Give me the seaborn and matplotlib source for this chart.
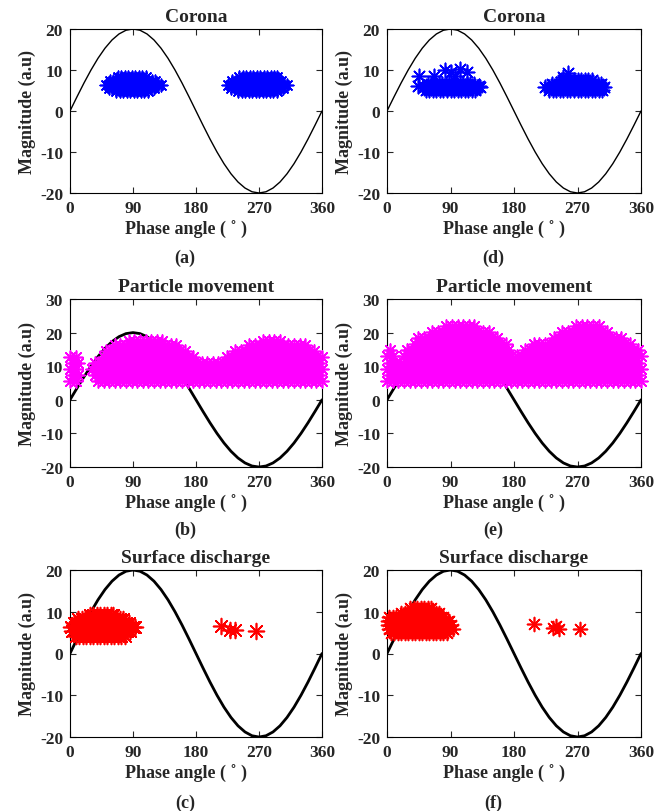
import matplotlib
matplotlib.use("Agg")
import matplotlib.pyplot as plt
import seaborn as sns
import pandas as pd

# ---------------- data ----------------
phase_deg = [0, 10, 20, 30, 40, 50, 60, 70, 80, 90, 100, 110, 120, 130, 140, 150, 160, 170, 180,
             190, 200, 210, 220, 230, 240, 250, 260, 270, 280, 290, 300, 310, 320, 330, 340, 350, 360]
sine_mag = [0, 3.47, 6.84, 10.0, 12.86, 15.32, 17.32, 18.79, 19.70, 20.0, 19.70, 18.79, 17.32, 15.32,
            12.86, 10.0, 6.84, 3.47, 0, -3.47, -6.84, -10.0, -12.86, -15.32, -17.32, -18.79, -19.70,
            -20.0, -19.70, -18.79, -17.32, -15.32, -12.86, -10.0, -6.84, -3.47, 0]

x_ticks = [0, 90, 180, 270, 360]
y_ticks_20 = [-20, -10, 0, 10, 20]
y_ticks_30 = [-20, -10, 0, 10, 20, 30]

# (a) Corona - rows of pulses (magnitude, phase list)
a_row_mag = [8.2, 7.3, 6.4, 5.5, 4.8]
a_row_phase = [
    [68, 73, 78, 83, 88, 93, 98, 103, 108,
     242, 247, 252, 257, 262, 267, 272, 277, 282, 287, 292, 296],
    [57, 62, 67, 72, 77, 82, 87, 92, 97, 102, 107, 112, 117, 121,
     232, 237, 242, 247, 252, 257, 262, 267, 272, 277, 282, 287, 292, 297, 302],
    [52, 55, 60, 65, 70, 75, 80, 85, 90, 95, 100, 105, 110, 115, 120, 125, 130,
     226, 230, 235, 240, 245, 250, 255, 260, 265, 270, 275, 280, 285, 290, 295, 300, 305, 310],
    [55, 60, 65, 70, 75, 80, 85, 90, 95, 100, 105, 110, 115, 120,
     230, 235, 240, 245, 250, 255, 260, 265, 270, 275, 280, 285, 290, 295, 300, 304],
    [66, 71, 76, 81, 86, 91, 96, 101, 106, 111,
     240, 245, 250, 255, 260, 265, 270, 275, 280, 285, 290, 295],
]

# (d) Corona
d_row_mag = [7.6, 6.6, 5.8, 5.1]
d_row_phase = [
    [250, 255, 260, 265, 270, 275, 280, 285, 290],
    [58, 63, 68, 73, 78, 83, 88, 93, 98, 103, 108, 113, 118, 123,
     234, 239, 244, 249, 254, 259, 264, 269, 274, 279, 284, 289, 294, 299, 303],
    [52, 57, 62, 67, 72, 77, 82, 87, 92, 97, 102, 107, 112, 117, 122, 127, 132,
     224, 229, 234, 239, 244, 249, 254, 259, 264, 269, 274, 279, 284, 289, 294, 299, 304, 308],
    [55, 60, 65, 70, 75, 80, 85, 90, 95, 100, 105, 110, 115, 120, 125,
     230, 235, 240, 245, 250, 255, 260, 265, 270, 275, 280, 285, 290, 295, 300, 305],
]
d_extra_phase = [46, 44, 66, 82, 90, 104, 114, 130, 96, 257, 250]
d_extra_mag = [8.5, 6.0, 8.5, 10.0, 9.6, 10.2, 9.4, 6.2, 8.6, 9.3, 8.3]

# (b) Particle movement
b_row_mag = [5.5, 7.3, 9.1, 10.9, 12.7, 14.5, 16.3, 17.4]
b_row_phase = [
    [0, 8, 40, 48, 56, 64, 72, 80, 88, 96, 104, 112, 120, 128, 136, 144, 152, 160, 168, 176, 184,
     192, 200, 208, 216, 224, 232, 240, 248, 256, 264, 272, 280, 288, 296, 304, 312, 320, 328, 336,
     344, 352, 360],
    [4, 12, 36, 44, 52, 60, 68, 76, 84, 92, 100, 108, 116, 124, 132, 140, 148, 156, 164, 172, 180,
     188, 196, 204, 212, 220, 228, 236, 244, 252, 260, 268, 276, 284, 292, 300, 308, 316, 324, 332,
     340, 348, 356],
    [0, 8, 32, 40, 48, 56, 64, 72, 80, 88, 96, 104, 112, 120, 128, 136, 144, 152, 160, 168, 176, 184,
     192, 200, 208, 216, 224, 232, 240, 248, 256, 264, 272, 280, 288, 296, 304, 312, 320, 328, 336,
     344, 352, 360],
    [4, 12, 36, 44, 52, 60, 68, 76, 84, 92, 100, 108, 116, 124, 132, 140, 148, 156, 164, 172, 180,
     188, 196, 204, 212, 220, 228, 236, 244, 252, 260, 268, 276, 284, 292, 300, 308, 316, 324, 332,
     340, 348, 356],
    [0, 8, 48, 56, 64, 72, 80, 88, 96, 104, 112, 120, 128, 136, 144, 152, 160, 168, 176,
     224, 232, 240, 248, 256, 264, 272, 280, 288, 296, 304, 312, 320, 328, 336, 344, 352, 360],
    [52, 60, 68, 76, 84, 92, 100, 108, 116, 124, 132, 140, 148, 156, 164,
     236, 244, 252, 260, 268, 276, 284, 292, 300, 308, 316, 324, 332, 340, 348],
    [64, 72, 80, 88, 96, 104, 112, 120, 128, 136, 144, 152,
     256, 264, 272, 280, 288, 296, 304, 312, 320, 328, 336],
    [84, 92, 100, 108, 116, 124, 132, 276, 284, 292, 300],
]

# (e) Particle movement
e_row_mag = [5.7, 7.5, 9.3, 11.1, 12.9, 14.7, 16.5, 18.3, 20.1, 21.9]
e_row_phase = [
    [0, 8, 16, 24, 32, 40, 48, 56, 64, 72, 80, 88, 96, 104, 112, 120, 128, 136, 144, 152, 160, 168,
     176, 184, 192, 200, 208, 216, 224, 232, 240, 248, 256, 264, 272, 280, 288, 296, 304, 312, 320,
     328, 336, 344, 352, 360],
    [4, 12, 20, 28, 36, 44, 52, 60, 68, 76, 84, 92, 100, 108, 116, 124, 132, 140, 148, 156, 164, 172,
     180, 188, 196, 204, 212, 220, 228, 236, 244, 252, 260, 268, 276, 284, 292, 300, 308, 316, 324,
     332, 340, 348, 356],
    [0, 8, 16, 24, 32, 40, 48, 56, 64, 72, 80, 88, 96, 104, 112, 120, 128, 136, 144, 152, 160, 168,
     176, 184, 192, 200, 208, 216, 224, 232, 240, 248, 256, 264, 272, 280, 288, 296, 304, 312, 320,
     328, 336, 344, 352, 360],
    [4, 12, 20, 28, 36, 44, 52, 60, 68, 76, 84, 92, 100, 108, 116, 124, 132, 140, 148, 156, 164, 172,
     180, 188, 196, 204, 212, 220, 228, 236, 244, 252, 260, 268, 276, 284, 292, 300, 308, 316, 324,
     332, 340, 348, 356],
    [0, 8, 24, 32, 40, 48, 56, 64, 72, 80, 88, 96, 104, 112, 120, 128, 136, 144, 152, 160, 168,
     176, 184, 192, 200, 208, 216, 224, 232, 240, 248, 256, 264, 272, 280, 288, 296, 304, 312, 320,
     328, 336, 344, 352, 360],
    [4, 28, 36, 44, 52, 60, 68, 76, 84, 92, 100, 108, 116, 124, 132, 140, 148, 156, 164, 172,
     196, 204, 212, 220, 228, 236, 244, 252, 260, 268, 276, 284, 292, 300, 308, 316, 324,
     332, 340, 348, 356],
    [40, 48, 56, 64, 72, 80, 88, 96, 104, 112, 120, 128, 136, 144, 152, 160, 168,
     208, 216, 224, 232, 240, 248, 256, 264, 272, 280, 288, 296, 304, 312, 320, 328, 336, 344],
    [44, 52, 60, 68, 76, 84, 92, 100, 108, 116, 124, 132, 140, 148, 156,
     236, 244, 252, 260, 268, 276, 284, 292, 300, 308, 316, 324, 332],
    [64, 72, 80, 88, 96, 104, 112, 120, 128, 136, 144, 248, 256, 264, 272, 280, 288, 296, 304, 312],
    [84, 92, 100, 108, 116, 124, 268, 276, 284, 292, 300],
]

# (c) Surface discharge
c_row_mag = [9.3, 8.3, 7.3, 6.3, 5.3, 4.3]
c_row_phase = [
    [28, 33, 38, 43, 48, 53, 58, 62],
    [12, 17, 22, 27, 32, 37, 42, 47, 52, 57, 62, 67, 71, 75],
    [5, 10, 15, 20, 25, 30, 35, 40, 45, 50, 55, 60, 65, 70, 75, 80, 84],
    [2, 7, 12, 17, 22, 27, 32, 37, 42, 47, 52, 57, 62, 67, 72, 77, 82, 86, 90, 93],
    [3, 8, 13, 18, 23, 28, 33, 38, 43, 48, 53, 58, 63, 68, 73, 78, 82, 86],
    [8, 13, 18, 23, 28, 33, 38, 43, 48, 53, 58, 63, 68, 73, 78],
]
c_extra_phase = [215, 229, 236, 265]
c_extra_mag = [6.6, 5.7, 5.6, 5.5]

# (f) Surface discharge
f_row_mag = [10.8, 9.8, 8.8, 7.8, 6.8, 5.8, 5.0]
f_row_phase = [
    [33, 38, 43, 48, 53, 58, 62],
    [20, 25, 30, 35, 40, 45, 50, 55, 60, 65, 70, 74],
    [3, 8, 13, 18, 23, 28, 33, 38, 43, 48, 53, 58, 63, 68, 73, 77, 80],
    [2, 7, 12, 17, 22, 27, 32, 37, 42, 47, 52, 57, 62, 67, 72, 77, 82, 86, 88],
    [2, 7, 12, 17, 22, 27, 32, 37, 42, 47, 52, 57, 62, 67, 72, 77, 82, 86, 90],
    [3, 8, 13, 18, 23, 28, 33, 38, 43, 48, 53, 58, 63, 68, 73, 78, 83, 88, 93],
    [5, 10, 15, 20, 25, 30, 35, 40, 45, 50, 55, 60, 65, 70, 75, 80, 85],
]
f_extra_phase = [208, 235, 240, 244, 274]
f_extra_mag = [7.0, 6.1, 6.6, 5.8, 5.9]


def cloud_frame(row_mag, row_phase, extra_phase=(), extra_mag=()):
    xs, ys = [], []
    for m, ph in zip(row_mag, row_phase):
        xs.extend(ph)
        ys.extend([m] * len(ph))
    xs.extend(extra_phase)
    ys.extend(extra_mag)
    return pd.DataFrame({"phase": xs, "mag": ys})


# ---------------- style ----------------
sns.set_theme(style="ticks")
plt.rcParams["font.family"] = ["Liberation Serif", "DejaVu Serif"]
plt.rcParams["font.weight"] = "bold"
plt.rcParams["axes.labelweight"] = "bold"
plt.rcParams["axes.titleweight"] = "bold"
plt.rcParams["axes.unicode_minus"] = False
plt.rcParams["axes.edgecolor"] = "black"
plt.rcParams["axes.linewidth"] = 0.8

W, H = 669, 812
fig = plt.figure(figsize=(W / 100, H / 100), dpi=100)

col_x = {0: (70, 322), 1: (387, 641)}
row_y = {0: (30, 194), 1: (300, 468), 2: (571, 738)}
sub_y = {0: 258, 1: 530, 2: 803}
sub_x = {0: 185, 1: 493}

panels = [
    (0, 0, "Corona", cloud_frame(a_row_mag, a_row_phase), "blue", 1.0, y_ticks_20, "(a)", 80),
    (0, 1, "Corona", cloud_frame(d_row_mag, d_row_phase, d_extra_phase, d_extra_mag), "blue", 1.0, y_ticks_20, "(d)", 105),
    (1, 0, "Particle movement", cloud_frame(b_row_mag, b_row_phase), "magenta", 2.0, y_ticks_30, "(b)", 85),
    (1, 1, "Particle movement", cloud_frame(e_row_mag, e_row_phase), "magenta", 2.0, y_ticks_30, "(e)", 85),
    (2, 0, "Surface discharge", cloud_frame(c_row_mag, c_row_phase, c_extra_phase, c_extra_mag), "red", 2.0, y_ticks_20, "(c)", 130),
    (2, 1, "Surface discharge", cloud_frame(f_row_mag, f_row_phase, f_extra_phase, f_extra_mag), "red", 2.0, y_ticks_20, "(f)", 100),
]

for r, c, title, df, color, lw, yt, tag, msize in panels:
    x0, x1 = col_x[c]
    t, b = row_y[r]
    ax = fig.add_axes([x0 / W, 1 - b / H, (x1 - x0) / W, (b - t) / H])
    sns.lineplot(x=phase_deg, y=sine_mag, color="black", linewidth=lw, ax=ax, zorder=1)
    sns.scatterplot(data=df, x="phase", y="mag", marker=(8, 2, 0), color=color, s=msize,
                    linewidth=1.2, ax=ax, zorder=3, clip_on=False, legend=False)
    ax.set_xlim(0, 360)
    ax.set_ylim(yt[0], yt[-1])
    ax.set_xticks(x_ticks)
    ax.set_yticks(yt)
    ax.tick_params(direction="in", top=True, right=True, length=4, width=0.8,
                   labelsize=12.5, pad=5)
    for lab in ax.get_xticklabels() + ax.get_yticklabels():
        lab.set_fontweight("bold")
    for sp in ax.spines.values():
        sp.set_visible(True)
        sp.set_color("black")
        sp.set_zorder(2)
    ax.set_title(title, fontsize=14, fontweight="bold", pad=6)
    ax.set_xlabel("Phase angle ( \u02da )", fontsize=13, fontweight="bold", labelpad=3)
    ax.set_ylabel("Magnitude (a.u)", fontsize=13, fontweight="bold", labelpad=3)
    ax.xaxis.label.set_x(0.46)
    fig.text(sub_x[c] / W, 1 - sub_y[r] / H, tag, ha="center", va="center",
             fontsize=13, fontweight="bold")

fig.savefig("out.png", dpi=100)
